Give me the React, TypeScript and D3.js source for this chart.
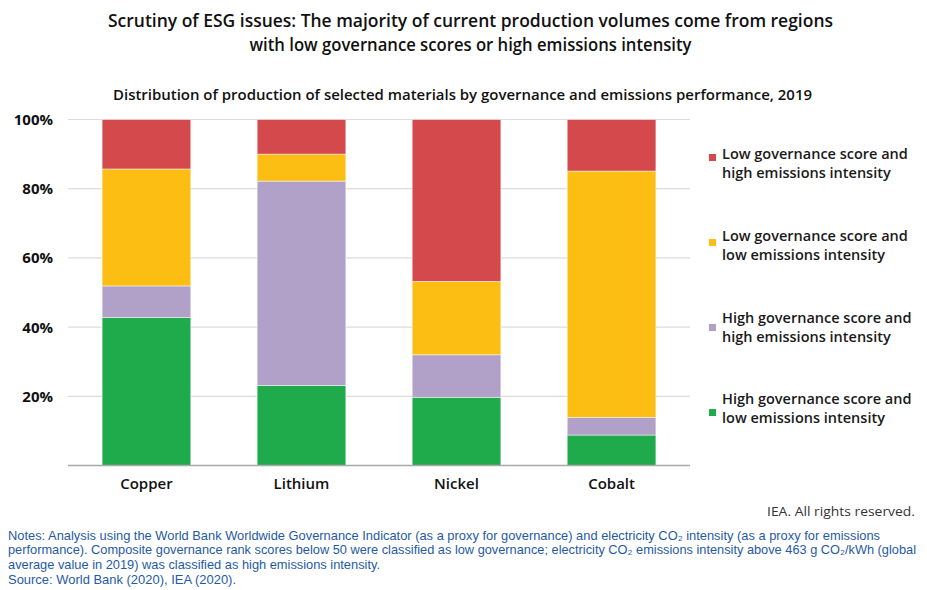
import React from "react";
import * as d3 from "d3";

const categories = ["Copper", "Lithium", "Nickel", "Cobalt"];
const seriesKeys = ["hgLow", "hgHigh", "lgLow", "lgHigh"];
const hgLow = [42.8, 23.1, 19.7, 8.8];
const hgHigh = [9.1, 59.1, 12.3, 5.1];
const lgLow = [33.8, 7.8, 21.2, 71.2];
const lgHigh = [14.3, 10.0, 46.8, 14.9];
const seriesColors = ["#1FAB4B", "#B1A1C8", "#FDBE13", "#D4494B"];
const yTicks = [20, 40, 60, 80, 100];
const legendItems = [
  ["Low governance score and", "high emissions intensity"],
  ["Low governance score and", "low emissions intensity"],
  ["High governance score and", "high emissions intensity"],
  ["High governance score and", "low emissions intensity"],
];
const legendColors = ["#D4494B", "#FDBE13", "#B1A1C8", "#1FAB4B"];
const titleLines = [
  "Scrutiny of ESG issues: The majority of current production volumes come from regions",
  "with low governance scores or high emissions intensity",
];
const subtitle =
  "Distribution of production of selected materials by governance and emissions performance, 2019";
const noteLines = [
  "Notes: Analysis using the World Bank Worldwide Governance Indicator (as a proxy for governance) and electricity CO₂ intensity (as a proxy for emissions",
  "performance). Composite governance rank scores below 50 were classified as low governance; electricity CO₂ emissions intensity above 463 g CO₂/kWh (global",
  "average value in 2019) was classified as high emissions intensity.",
  "Source: World Bank (2020), IEA (2020).",
];
const noteWidths = [872, 908, 372, 228];

const sans = "'Open Sans', 'Noto Sans', sans-serif";
const notesFont = "'Liberation Sans', Arial, sans-serif";
const NOTE_SX = 0.8;

export default function App() {
  const W = 927;
  const H = 590;
  const x = d3
    .scaleBand<string>()
    .domain(categories)
    .range([68, 690])
    .paddingInner(0.428)
    .paddingOuter(0.22);
  const y = d3.scaleLinear().domain([0, 100]).range([465.5, 119.5]);

  const table = categories.map((c, i) => ({
    cat: c,
    hgLow: hgLow[i],
    hgHigh: hgHigh[i],
    lgLow: lgLow[i],
    lgHigh: lgHigh[i],
  }));
  const stacked = d3.stack<any>().keys(seriesKeys)(table);

  return (
    <svg
      width={W}
      height={H}
      style={{ position: "absolute", left: 0, top: 0, background: "#fff" }}
    >
      {titleLines.map((t, i) => (
        <text
          key={i}
          x={470.5}
          y={26.5 + i * 24}
          textAnchor="middle"
          fontFamily={sans}
          fontSize={18}
          fontWeight={600}
          fill="#111"
          textLength={i === 0 ? 725 : 442}
          lengthAdjust="spacingAndGlyphs"
        >
          {t}
        </text>
      ))}
      <text
        x={462.5}
        y={100}
        textAnchor="middle"
        fontFamily={sans}
        fontSize={15}
        fontWeight={600}
        fill="#111"
        textLength={699}
        lengthAdjust="spacingAndGlyphs"
      >
        {subtitle}
      </text>

      {yTicks.map((t) => (
        <g key={t}>
          <line x1={68} x2={690} y1={y(t)} y2={y(t)} stroke="#dcdcdc" strokeWidth={1.2} />
          <text
            x={53}
            y={y(t) + 5.5}
            textAnchor="end"
            fontFamily={sans}
            fontSize={15}
            fontWeight={700}
            fill="#111"
          >
            {t}%
          </text>
        </g>
      ))}

      {stacked.map((s, si) => (
        <g key={s.key} fill={seriesColors[si]}>
          {s.map((d, di) => (
            <rect
              key={di}
              x={x(categories[di])}
              width={x.bandwidth()}
              y={y(d[1])}
              height={y(d[0]) - y(d[1])}
              stroke="#ffffff"
              strokeOpacity={0.6}
              strokeWidth={0.8}
            />
          ))}
        </g>
      ))}

      <line x1={68} x2={690} y1={y(0)} y2={y(0)} stroke="#a9a9a9" strokeWidth={1.5} />

      {categories.map((c) => (
        <text
          key={c}
          x={(x(c) as number) + x.bandwidth() / 2}
          y={489}
          textAnchor="middle"
          fontFamily={sans}
          fontSize={15}
          fontWeight={600}
          fill="#111"
        >
          {c}
        </text>
      ))}

      {legendItems.map((lines, i) => (
        <g key={i}>
          <rect x={709} y={154 + i * 85} width={7} height={7} fill={legendColors[i]} />
          {lines.map((l, j) => (
            <text
              key={j}
              x={722}
              y={159 + i * 81.8 + j * 19}
              fontFamily={sans}
              fontSize={14.5}
              fontWeight={600}
              fill="#1a1a1a"
            >
              {l}
            </text>
          ))}
        </g>
      ))}

      <text
        x={915}
        y={516}
        textAnchor="end"
        fontFamily={sans}
        fontSize={12}
        fill="#333"
        textLength={148}
        lengthAdjust="spacingAndGlyphs"
      >
        IEA. All rights reserved.
      </text>

      <g transform={`translate(8,0) scale(${NOTE_SX},1)`}>
        {noteLines.map((l, i) => (
          <text
            key={i}
            x={0}
            y={540 + i * 14.3 + (i === 3 ? 1.5 : 0)}
            fontFamily={notesFont}
            fontSize={13}
            fill="#1F5AA6"
            textLength={noteWidths[i] / NOTE_SX}
            lengthAdjust="spacingAndGlyphs"
          >
            {l}
          </text>
        ))}
      </g>
    </svg>
  );
}
